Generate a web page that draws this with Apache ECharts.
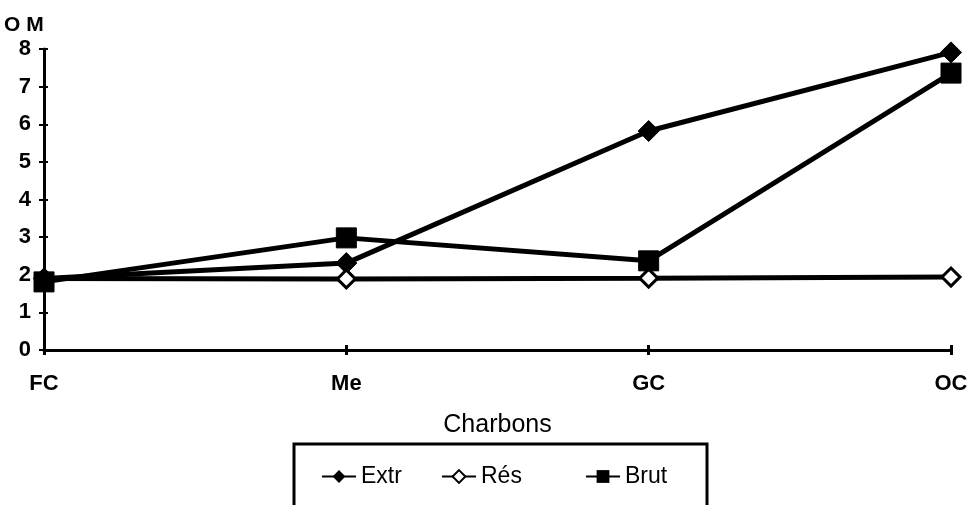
<!DOCTYPE html>
<html>
<head>
<meta charset="utf-8">
<script src="https://cdn.jsdelivr.net/npm/echarts@6/dist/echarts.min.js"></script>
<style>
  html, body { margin: 0; padding: 0; background: #fff; }
  #chart { width: 978px; height: 505px; }
</style>
</head>
<body>
<div id="chart"></div>
<script>
// Coal types along the x axis
const categories = ['FC', 'Me', 'GC', 'OC'];
// OM content per fraction
const extr = [1.9, 2.31, 5.82, 7.91];
const res = [1.9, 1.89, 1.91, 1.94];
const brut = [1.81, 2.98, 2.37, 7.36];
const yTicks = [0, 1, 2, 3, 4, 5, 6, 7, 8];

const font = '"Liberation Sans", Arial, sans-serif';
const chart = echarts.init(document.getElementById('chart'), null, { renderer: 'canvas' });

const lineBase = {
  type: 'line',
  lineStyle: { color: '#000', width: 5 },
  itemStyle: { color: '#000', borderColor: '#000' },
  animation: false,
  showAllSymbol: true
};

const legendText = { fontFamily: font, fontSize: 23, color: '#000' };
function legendAt(name, left) {
  return {
    data: [name], left: left, top: 460,
    itemWidth: 34, itemHeight: 16, itemGap: 0,
    textStyle: legendText
  };
}

const yMin = yTicks[0];
const yMax = yTicks[yTicks.length - 1];

chart.setOption({
  backgroundColor: '#fff',
  title: {
    text: 'O M',
    left: -1,
    top: 10,
    textStyle: { fontFamily: font, fontWeight: 'bold', fontSize: 21, color: '#000' }
  },
  grid: { left: 44, right: 27, top: 49, bottom: 155, containLabel: false },
  xAxis: [{
    type: 'category',
    data: categories,
    boundaryGap: false,
    name: 'Charbons',
    nameLocation: 'middle',
    nameGap: 63,
    nameTextStyle: { fontFamily: font, fontSize: 25, color: '#000' },
    axisLine: { lineStyle: { color: '#000', width: 3 } },
    axisTick: { show: true, alignWithLabel: true, length: 5, lineStyle: { color: '#000', width: 3 } },
    axisLabel: { fontFamily: font, fontWeight: 'bold', fontSize: 22, color: '#000', margin: 23 },
    splitLine: { show: false }
  }, {
    // inner half of the crossing ticks
    type: 'category',
    data: categories,
    boundaryGap: false,
    position: 'bottom',
    axisLine: { show: false },
    axisTick: { show: true, inside: true, alignWithLabel: true, length: 5, lineStyle: { color: '#000', width: 3 } },
    axisLabel: { show: false },
    splitLine: { show: false }
  }],
  yAxis: [{
    type: 'value',
    min: yMin,
    max: yMax,
    interval: 1,
    axisLine: { show: true, lineStyle: { color: '#000', width: 3 } },
    axisTick: { show: true, length: 5, lineStyle: { color: '#000', width: 2 } },
    axisLabel: { fontFamily: font, fontWeight: 'bold', fontSize: 22, color: '#000', margin: 13 },
    splitLine: { show: false }
  }, {
    type: 'value',
    min: yMin,
    max: yMax,
    interval: 1,
    position: 'left',
    axisLine: { show: false },
    axisTick: { show: true, inside: true, length: 4, lineStyle: { color: '#000', width: 2 } },
    axisLabel: { show: false },
    splitLine: { show: false }
  }],
  legend: [
    legendAt('Extr', 316),
    legendAt('Rés', 436),
    legendAt('Brut', 580)
  ],
  graphic: [{
    type: 'rect',
    shape: { x: 294, y: 444, width: 413, height: 90 },
    style: { fill: 'none', stroke: '#000', lineWidth: 3 },
    silent: true
  }],
  series: [
    Object.assign({}, lineBase, {
      name: 'Extr', data: extr, symbol: 'diamond', symbolSize: 21, z: 2
    }),
    Object.assign({}, lineBase, {
      name: 'Rés', data: res, symbol: 'diamond', symbolSize: 18, z: 3,
      itemStyle: { color: '#fff', borderColor: '#000', borderWidth: 3 }
    }),
    Object.assign({}, lineBase, {
      name: 'Brut', data: brut, symbol: 'rect', symbolSize: 20, z: 4
    })
  ]
});
</script>
</body>
</html>
